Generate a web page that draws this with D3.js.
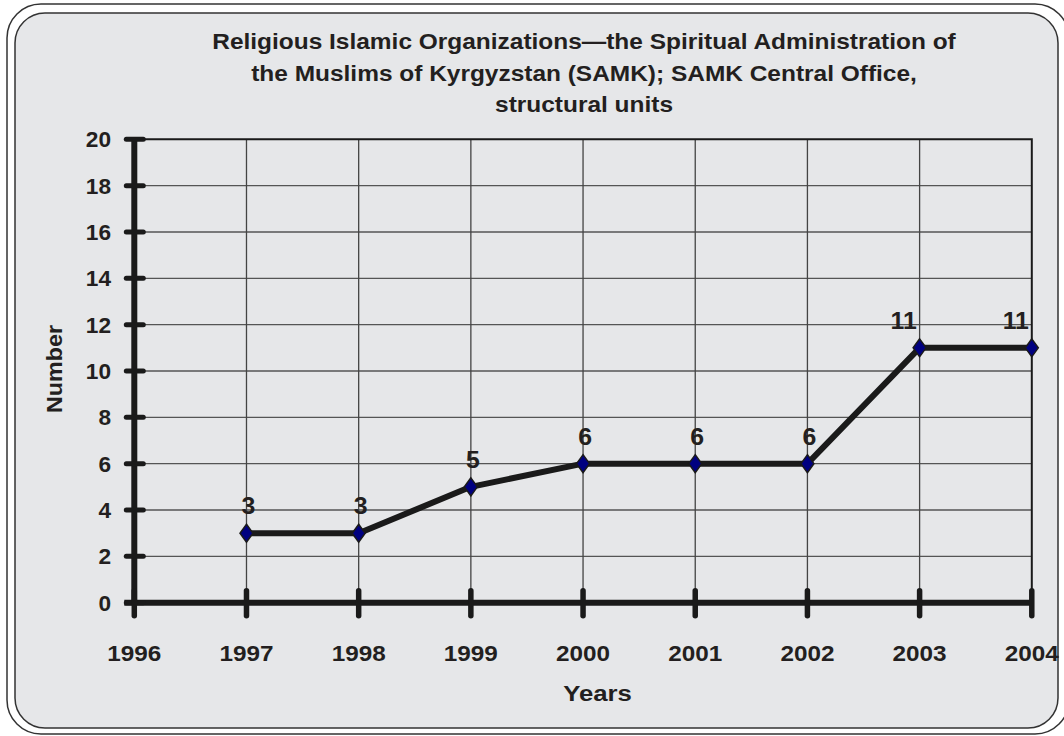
<!DOCTYPE html>
<html><head><meta charset="utf-8">
<script src="https://cdn.jsdelivr.net/npm/d3@7"></script>
<style>html,body{margin:0;padding:0;background:#fff;}svg{display:block;}</style>
</head><body>
<script>
const years = [1997, 1998, 1999, 2000, 2001, 2002, 2003, 2004];
const values = [3, 3, 5, 6, 6, 6, 11, 11];
const xTicks = [1996, 1997, 1998, 1999, 2000, 2001, 2002, 2003, 2004];
const yTicks = [0, 2, 4, 6, 8, 10, 12, 14, 16, 18, 20];
const titleLines = ["Religious Islamic Organizations\u2014the Spiritual Administration of",
  "the Muslims of Kyrgyzstan (SAMK); SAMK Central Office,",
  "structural units"];
const xTitle = "Years";
const yTitle = "Number";

const W = 1064, H = 736;
const ink = "#231f20";
const font = "'Liberation Sans', Arial, sans-serif";
const svg = d3.select("body").append("svg").attr("width", W).attr("height", H);

// frame
svg.append("rect").attr("x", 7).attr("y", 4).attr("width", 1062).attr("height", 730)
  .attr("rx", 34).attr("ry", 34).attr("fill", "#fff").attr("stroke", "#333").attr("stroke-width", 1.5);
svg.append("rect").attr("x", 15).attr("y", 13).attr("width", 1043).attr("height", 715)
  .attr("rx", 30).attr("ry", 30).attr("fill", "#e6e7e9").attr("stroke", "#333").attr("stroke-width", 1.5);

const x = d3.scaleLinear().domain([1996, 2004]).range([134.3, 1031.8]);
const y = d3.scaleLinear().domain([0, 20]).range([602.7, 139.3]);

// grid
const g = svg.append("g");
g.selectAll(".hg").data(yTicks.filter(d => d > 0 && d < 20)).join("line")
  .attr("x1", x(1996)).attr("x2", x(2004)).attr("y1", d => y(d)).attr("y2", d => y(d))
  .attr("stroke", "#555").attr("stroke-width", 1.3);
g.selectAll(".vg").data(xTicks.filter(d => d > 1996 && d < 2004)).join("line")
  .attr("x1", d => x(d)).attr("x2", d => x(d)).attr("y1", y(0)).attr("y2", y(20))
  .attr("stroke", "#444").attr("stroke-width", 1.3);
g.append("path").attr("d", `M${x(1996)},${y(20)}H${x(2004)}V${y(0)}`)
  .attr("fill", "none").attr("stroke", "#1a1a1a").attr("stroke-width", 2);

// axes
const axG = svg.append("g").attr("stroke", "#1a1a1a").attr("stroke-linecap", "round");
axG.append("line").attr("x1", x(1996)).attr("x2", x(1996)).attr("y1", y(20)).attr("y2", y(0)).attr("stroke-width", 6).attr("stroke-linecap", "butt");
axG.append("line").attr("x1", x(1996) - 10).attr("x2", x(2004)).attr("y1", y(0)).attr("y2", y(0)).attr("stroke-width", 6).attr("stroke-linecap", "butt");
axG.selectAll(".yt").data(yTicks).join("line")
  .attr("x1", x(1996) - 8).attr("x2", x(1996) + 9).attr("y1", d => y(d)).attr("y2", d => y(d)).attr("stroke-width", 5);
axG.selectAll(".xt").data(xTicks).join("line")
  .attr("x1", d => x(d)).attr("x2", d => x(d)).attr("y1", y(0) - 12).attr("y2", y(0) + 13).attr("stroke-width", 5.5);

const txt = svg.append("g").attr("font-family", font).attr("font-weight", "bold").attr("fill", ink);
const SX = 1.08;
txt.selectAll(".yl").data(yTicks).join("text")
  .attr("transform", d => `translate(111,${y(d) + 8}) scale(1.03,1)`).attr("text-anchor", "end").attr("font-size", 22).text(d => d);
txt.selectAll(".xl").data(xTicks).join("text")
  .attr("transform", d => `translate(${x(d)},661) scale(${SX},1)`).attr("text-anchor", "middle").attr("font-size", 22.5).text(d => d);
txt.append("text").attr("transform", `translate(597.5,701) scale(1.12,1)`).attr("text-anchor", "middle").attr("font-size", 23).text(xTitle);
txt.append("text").attr("transform", "translate(61.5,369) rotate(-90) scale(1.06,1)").attr("text-anchor", "middle").attr("font-size", 22).text(yTitle);

// title
const tl = txt.append("g").selectAll("text").data(titleLines).join("text")
  .attr("text-anchor", "middle").attr("font-size", 22).text(d => d);
const w0 = tl.node().getComputedTextLength();
const tsx = 744 / w0;
tl.attr("transform", (d, i) => `translate(584,${49 + i * 31.5}) scale(${tsx},1)`);

// line
const line = d3.line().x((d, i) => x(years[i])).y(d => y(d));
svg.append("path").datum(values).attr("d", line).attr("fill", "none")
  .attr("stroke", "#1a1a1a").attr("stroke-width", 6).attr("stroke-linejoin", "round");
svg.selectAll(".mk").data(values).join("path")
  .attr("d", (d, i) => { const cx = x(years[i]), cy = y(d); return `M${cx},${cy - 9}L${cx + 6.5},${cy}L${cx},${cy + 9}L${cx - 6.5},${cy}Z`; })
  .attr("fill", "#000080").attr("stroke", "#1a1a1a").attr("stroke-width", 1.5);
txt.selectAll(".dl").data(values).join("text")
  .attr("transform", (d, i) => `translate(${x(years[i]) + (d >= 10 ? -16 : 2)},${y(d) - 19}) scale(${SX},1)`)
  .attr("text-anchor", "middle").attr("font-size", 23).text(d => d);
</script>
</body></html>
